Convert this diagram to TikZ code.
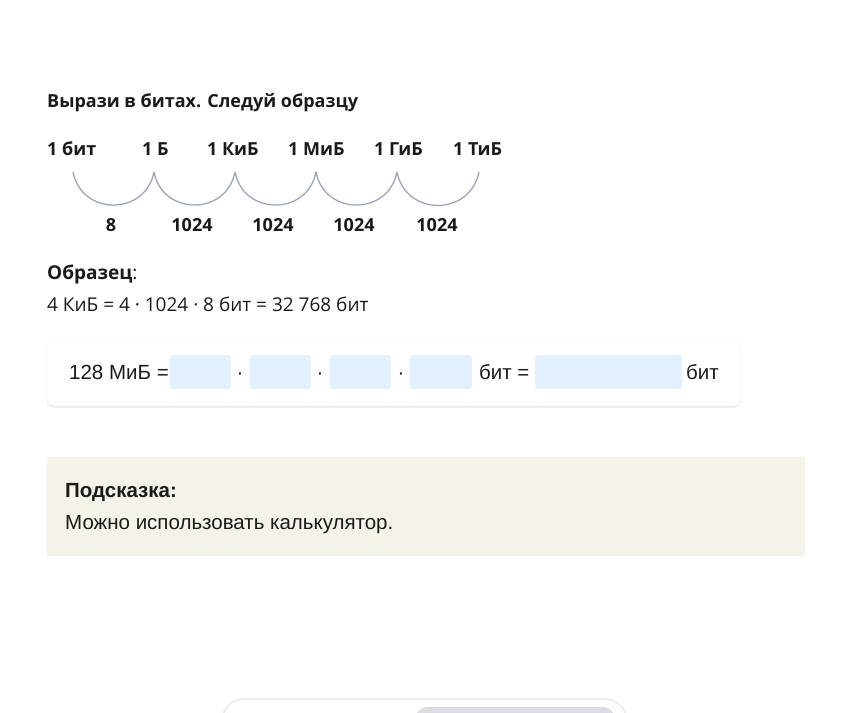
\documentclass[tikz,border=0pt]{standalone}
\usepackage{fontspec}
\setmainfont{Open Sans}
\newfontfamily\robo{Liberation Sans}
\definecolor{arccol}{HTML}{9AA6B8}
\definecolor{fieldcol}{HTML}{E3F0FD}
\definecolor{hintcol}{HTML}{F5F2EA}
\definecolor{inkcol}{HTML}{1A1A1A}
\definecolor{pillcol}{HTML}{DCDCE4}
\tikzset{
  txt/.style={inner sep=0pt, anchor=base west, text=inkcol,
    font=\fontsize{19}{21}\selectfont},
  unit/.style={txt, font=\fontsize{18}{20}\selectfont\bfseries},
  num/.style={unit, anchor=base},
  rtxt/.style={txt, font=\robo\fontsize{20.5}{23}\selectfont},
  field/.style={fill=fieldcol, rounded corners=3pt, anchor=west,
    minimum height=34pt, inner sep=0pt},
  arcline/.style={draw=arccol, line width=1.3pt},
}
\begin{document}
\begin{tikzpicture}[x=1pt,y=1pt]
  \useasboundingbox (0,0) rectangle (864,-712);
  \clip (0,0) rectangle (864,-712);
  \node[unit] (title) at (47,-107) {Вырази в битах. Следуй образцу};
  % units row
  \draw
    (47,-155) node[unit] (u0){1 бит}
    (142,-155) node[unit] (u1){1 Б}
    (207,-155) node[unit] (u2){1 КиБ}
    (288,-155) node[unit] (u3){1 МиБ}
    (374,-155) node[unit] (u4){1 ГиБ}
    (453,-155) node[unit] (u5){1 ТиБ};
  \coordinate (a0) at (73,-172);
  \coordinate (a1) at (154,-172);
  \coordinate (a2) at (235,-172);
  \coordinate (a3) at (316,-172);
  \coordinate (a4) at (397,-172);
  \coordinate (a5) at (479,-172);
  \begin{scope}[arcline]
    \draw (a0) to[out=-79,in=-101,looseness=1.42] (a1);
    \draw (a1) to[out=-79,in=-101,looseness=1.42] (a2);
    \draw (a2) to[out=-79,in=-101,looseness=1.42] (a3);
    \draw (a3) to[out=-79,in=-101,looseness=1.42] (a4);
    \draw (a4) to[out=-79,in=-101,looseness=1.42] (a5);
  \end{scope}
  \draw
    (111,-231) node[num] (n0){8}
    (192,-231) node[num] (n1){1024}
    (273,-231) node[num] (n2){1024}
    (354,-231) node[num] (n3){1024}
    (437,-231) node[num] (n4){1024};
  % sample
  \node[txt] (smp) at (47,-279) {\textbf{Образец}:};
  \node[txt] (smpline) at (47,-311) {4 КиБ = 4 · 1024 · 8 бит = 32 768 бит};
  % answer box
  \fill[black!10, rounded corners=7pt] (47,-342) rectangle (741,-407.5);
  \filldraw[fill=white, draw=black!5, rounded corners=7pt] (47,-340) rectangle (741,-406);
  \node[rtxt] (lhs) at (69,-379) {128 МиБ =};
  \node[field, minimum width=61pt] (f1) at (170,-372) {};
  \node[field, minimum width=61pt] (f2) at (250,-372) {};
  \node[field, minimum width=61pt] (f3) at (330,-372) {};
  \node[field, minimum width=62pt] (f4) at (410,-372) {};
  \node[field, minimum width=147pt] (f5) at (535,-372) {};
  \node[rtxt, anchor=base] (d1) at (240,-379) {·};
  \node[rtxt, anchor=base] (d2) at (320,-379) {·};
  \node[rtxt, anchor=base] (d3) at (401,-379) {·};
  \node[rtxt] (mid) at (479,-379) {бит =};
  \node[rtxt] (rhs) at (686,-379) {бит};
  % hint
  \fill[hintcol, rounded corners=2pt] (47,-457) rectangle (805,-556);
  \node[rtxt, font=\robo\fontsize{20.5}{23}\selectfont\bfseries] (hint) at (65,-497) {Подсказка:};
  \node[rtxt] (hinttext) at (65,-529) {Можно использовать калькулятор.};
  % bottom bar
  \draw[black!7, line width=2pt, rounded corners=22pt] (222,-760) rectangle (627,-699);
  \fill[pillcol, rounded corners=12pt] (415,-740) rectangle (615,-707);
\end{tikzpicture}
\end{document}
